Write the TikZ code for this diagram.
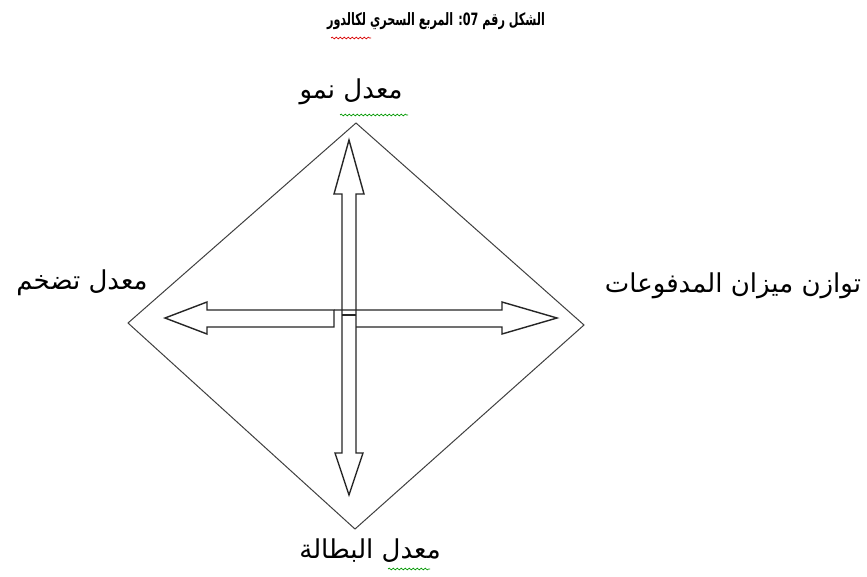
\documentclass[tikz,border=0pt]{standalone}
\usepackage{fontspec}
\TeXXeTstate=1
\newfontfamily\arabicfont[Script=Arabic]{DejaVu Sans}
\usetikzlibrary{decorations.pathmorphing}
\begin{document}
\begin{tikzpicture}[x=1pt,y=-1pt,line join=miter,
  arrowshape/.style={draw=black!85,line width=1.4pt},
  dia/.style={draw=black!75,line width=1pt},
  lbl/.style={font=\arabicfont\fontsize{26}{30}\selectfont,inner sep=0pt},
  ttl/.style={font=\arabicfont\bfseries\fontsize{17}{20}\selectfont,inner sep=0pt},
  wavy/.style={decorate,decoration={snake,amplitude=0.9pt,segment length=4pt},line width=0.7pt}]
\useasboundingbox (0,0) rectangle (867,576);
\fill[white] (0,0) rectangle (867,576);
% diamond
\coordinate (T) at (356,123);
\coordinate (R) at (584,325);
\coordinate (B) at (355,529);
\coordinate (L) at (128,323);
\draw[dia] (T) -- (R) -- (B) -- (L) -- cycle;
% vertical double arrow
\coordinate (vtip) at (349,140);
\coordinate (btip) at (349,495);
\draw[arrowshape] (342,194) -- (334,194) -- (vtip) -- (364,194) -- (356,194)
  -- (356,453) -- (363,453) -- (btip) -- (335,453) -- (342,453) -- cycle;
% horizontal double arrow
\coordinate (ltip) at (165,318);
\coordinate (rtip) at (557,318);
\draw[arrowshape] (334,310) -- (207,310) -- (207,302) -- (ltip) -- (207,334) -- (207,327) -- (334,327) -- cycle;
\draw[arrowshape] (334,310) -- (502,310) -- (502,302) -- (rtip) -- (502,334) -- (502,327) -- (356,327);
\draw[arrowshape] (342,315) -- (356,315);
% labels
\node[ttl] (title) at (436,21) {\scalebox{0.66}[1]{\beginR الشكل رقم \beginL07\endL: المربع السحري لكالدور\endR}};
\node[lbl] (top) at (351,92) {\beginR معدل نمو\endR};
\node[lbl] (bot) at (370,551) {\beginR معدل البطالة\endR};
\node[lbl] (left) at (82,283) {\beginR معدل تضخم\endR};
\node[lbl] (right) at (733,286) {\beginR توازن ميزان المدفوعات\endR};
% spelling marks
\draw[wavy,red!85!black] (331,38) -- (371,38);
\draw[wavy,green!60!black] (340,115) -- (408,115);
\draw[wavy,green!60!black] (388,569) -- (430,569);
\end{tikzpicture}
\end{document}
